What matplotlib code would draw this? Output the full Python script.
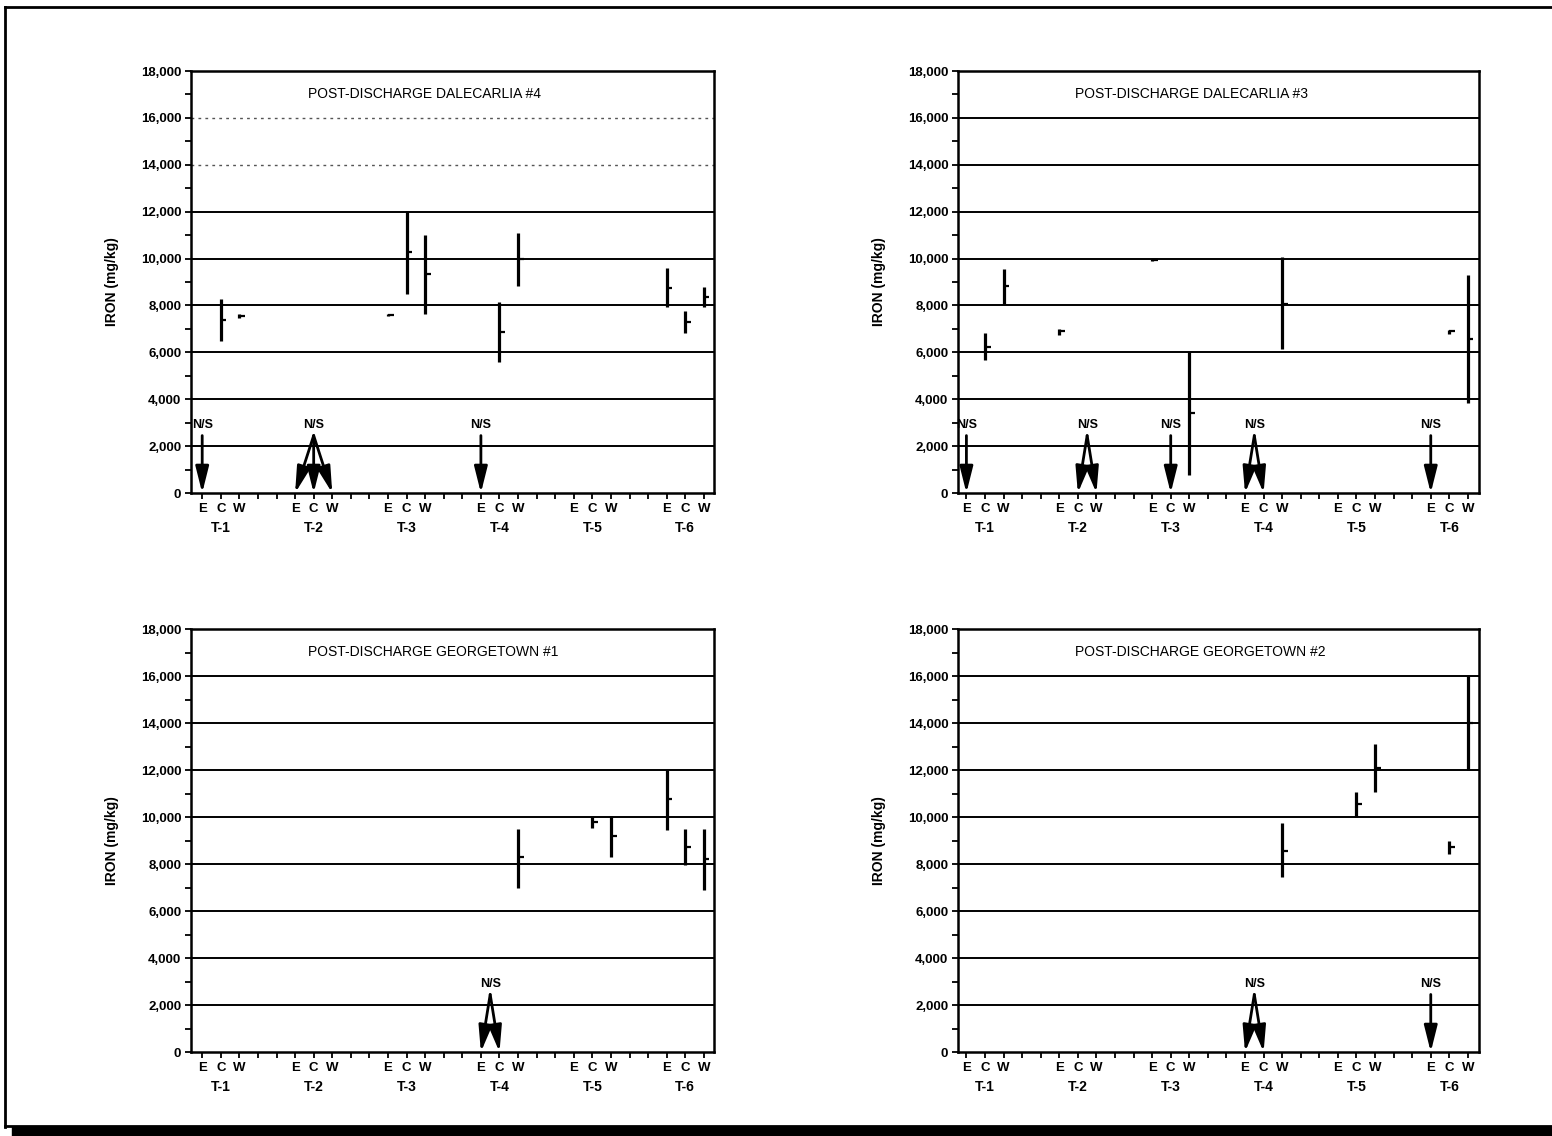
import matplotlib
matplotlib.use('Agg')
import matplotlib.pyplot as plt
from matplotlib.patches import Rectangle
from matplotlib.lines import Line2D

plt.rcParams['font.family'] = ['Liberation Sans', 'DejaVu Sans']

sites = ['E', 'C', 'W']
groups = ['T-1', 'T-2', 'T-3', 'T-4', 'T-5', 'T-6']
ytick_vals = [0, 2000, 4000, 6000, 8000, 10000, 12000, 14000, 16000, 18000]

# Dalecarlia #4  (group index, site index, min, mean, max)
dal4_grp = [0, 0, 2, 2, 2, 3, 3, 5, 5, 5]
dal4_site = [1, 2, 0, 1, 2, 1, 2, 0, 1, 2]
dal4_lo = [6470, 7450, 7550, 8500, 7650, 5600, 8820, 7930, 6840, 7930]
dal4_mean = [7370, 7550, 7600, 10300, 9350, 6870, 9990, 8740, 7290, 8360]
dal4_hi = [8290, 7650, 7650, 12040, 11000, 8140, 11090, 9590, 7760, 8780]
dal4_ns = [(0, [0]), (1, [0, 1, 2]), (3, [0])]

# Dalecarlia #3
dal3_grp = [0, 0, 1, 2, 2, 3, 5, 5]
dal3_site = [1, 2, 0, 0, 2, 2, 1, 2]
dal3_lo = [5670, 8070, 6750, 9900, 780, 6160, 6800, 3820]
dal3_mean = [6230, 8850, 6900, 9950, 3400, 8070, 6900, 6590]
dal3_hi = [6840, 9560, 7000, 10000, 6020, 10060, 6950, 9310]
dal3_ns = [(0, [0]), (1, [1, 2]), (2, [1]), (3, [0, 1]), (5, [0])]

# Georgetown #1
geo1_grp = [3, 4, 4, 5, 5, 5]
geo1_site = [2, 1, 2, 0, 1, 2]
geo1_lo = [7000, 9530, 8300, 9460, 7940, 6910]
geo1_mean = [8280, 9780, 9180, 10770, 8710, 8220]
geo1_hi = [9500, 9980, 10030, 12000, 9500, 9480]
geo1_ns = [(3, [0, 1])]

# Georgetown #2
geo2_grp = [3, 4, 4, 5, 5]
geo2_site = [2, 1, 2, 1, 2]
geo2_lo = [7430, 9980, 11080, 8420, 12000]
geo2_mean = [8560, 10540, 12070, 8710, 14000]
geo2_hi = [9740, 11080, 13100, 8990, 16000]
geo2_ns = [(3, [0, 1]), (5, [0])]

panels = [
    ('POST-DISCHARGE DALECARLIA #4', dal4_grp, dal4_site, dal4_lo, dal4_mean, dal4_hi, dal4_ns),
    ('POST-DISCHARGE DALECARLIA #3', dal3_grp, dal3_site, dal3_lo, dal3_mean, dal3_hi, dal3_ns),
    ('POST-DISCHARGE GEORGETOWN #1', geo1_grp, geo1_site, geo1_lo, geo1_mean, geo1_hi, geo1_ns),
    ('POST-DISCHARGE GEORGETOWN #2', geo2_grp, geo2_site, geo2_lo, geo2_mean, geo2_hi, geo2_ns),
]

# axes boxes in figure fractions (left, bottom, width, height)
boxes = [
    [0.1231, 0.566, 0.3370, 0.3715],
    [0.6173, 0.566, 0.3357, 0.3715],
    [0.1231, 0.0739, 0.3370, 0.3724],
    [0.6173, 0.0739, 0.3357, 0.3724],
]
xlims = [(-0.6, 27.55), (-0.45, 27.6), (-0.6, 27.55), (-0.45, 27.6)]

fig = plt.figure(figsize=(15.52, 11.36), dpi=100)

for i, (title, grp, site, lo, mean, hi, ns) in enumerate(panels):
    ax = fig.add_axes(boxes[i])
    ax.set_xlim(*xlims[i])
    ax.set_ylim(0, 18000)

    # horizontal grid lines
    for yv in ytick_vals[1:-1]:
        if i == 0 and yv >= 14000:
            ax.axhline(yv, color='#555555', lw=1.0, ls=(0, (2, 3)), zorder=1)
        else:
            ax.axhline(yv, color='black', lw=1.4, zorder=1)

    # ranges with mean tick
    xs = [g * 5 + s for g, s in zip(grp, site)]
    ax.vlines(xs, lo, hi, color='black', lw=2.3, zorder=3)
    ax.hlines(mean, xs, [x + 0.3 for x in xs], color='black', lw=1.6, zorder=3)

    # not sampled arrows
    for g, sl in ns:
        targets = [g * 5 + s for s in sl]
        x0 = sum(targets) / len(targets)
        ax.text(x0, 2900, 'N/S', ha='center', va='center', fontsize=9,
                fontweight='bold', zorder=5)
        for xt in targets:
            ax.annotate('', xy=(xt, 0), xytext=(x0, 2450),
                        arrowprops=dict(arrowstyle='-|>,head_length=1.6,head_width=0.4',
                                        color='black', lw=2, shrinkA=0, shrinkB=0),
                        zorder=4)

    ax.text(0.224, 0.945, title, transform=ax.transAxes, ha='left', va='center',
            fontsize=10)

    # y axis
    ax.set_yticks(ytick_vals)
    ax.set_yticklabels([f'{v:,}' for v in ytick_vals], fontsize=9.5, fontweight='bold')
    ax.set_yticks(range(1000, 18000, 2000), minor=True)
    ax.set_ylabel('IRON (mg/kg)', fontsize=10, fontweight='bold')
    ax.yaxis.set_label_coords(-0.138, 0.5)

    # x axis: every slot gets a tick, only sites are labelled
    site_x = [g * 5 + s for g in range(6) for s in range(3)]
    ax.set_xticks(site_x)
    ax.set_xticklabels(sites * 6, fontsize=9.5, fontweight='bold')
    ax.set_xticks([g * 5 + k for g in range(5) for k in (3, 4)], minor=True)
    for g, name in enumerate(groups):
        ax.text(g * 5 + 1, -0.082, name, transform=ax.get_xaxis_transform(),
                ha='center', va='center', fontsize=10, fontweight='bold')

    ax.tick_params(which='both', direction='out', length=4, width=1.3, colors='black', pad=3)
    for sp in ax.spines.values():
        sp.set_linewidth(1.8)

# page frame of the scanned sheet
fig.add_artist(Line2D([0.0035, 0.0035], [0.008, 0.9935], transform=fig.transFigure,
                      color='black', lw=2))
fig.add_artist(Line2D([0.0035, 1.0], [0.9935, 0.9935], transform=fig.transFigure,
                      color='black', lw=2))
fig.add_artist(Line2D([0.0035, 1.0], [0.0085, 0.0085], transform=fig.transFigure,
                      color='black', lw=2))
fig.add_artist(Rectangle((0.008, 0.0), 0.992, 0.0075, transform=fig.transFigure,
                         color='black'))

fig.savefig('out.png', dpi=100)
